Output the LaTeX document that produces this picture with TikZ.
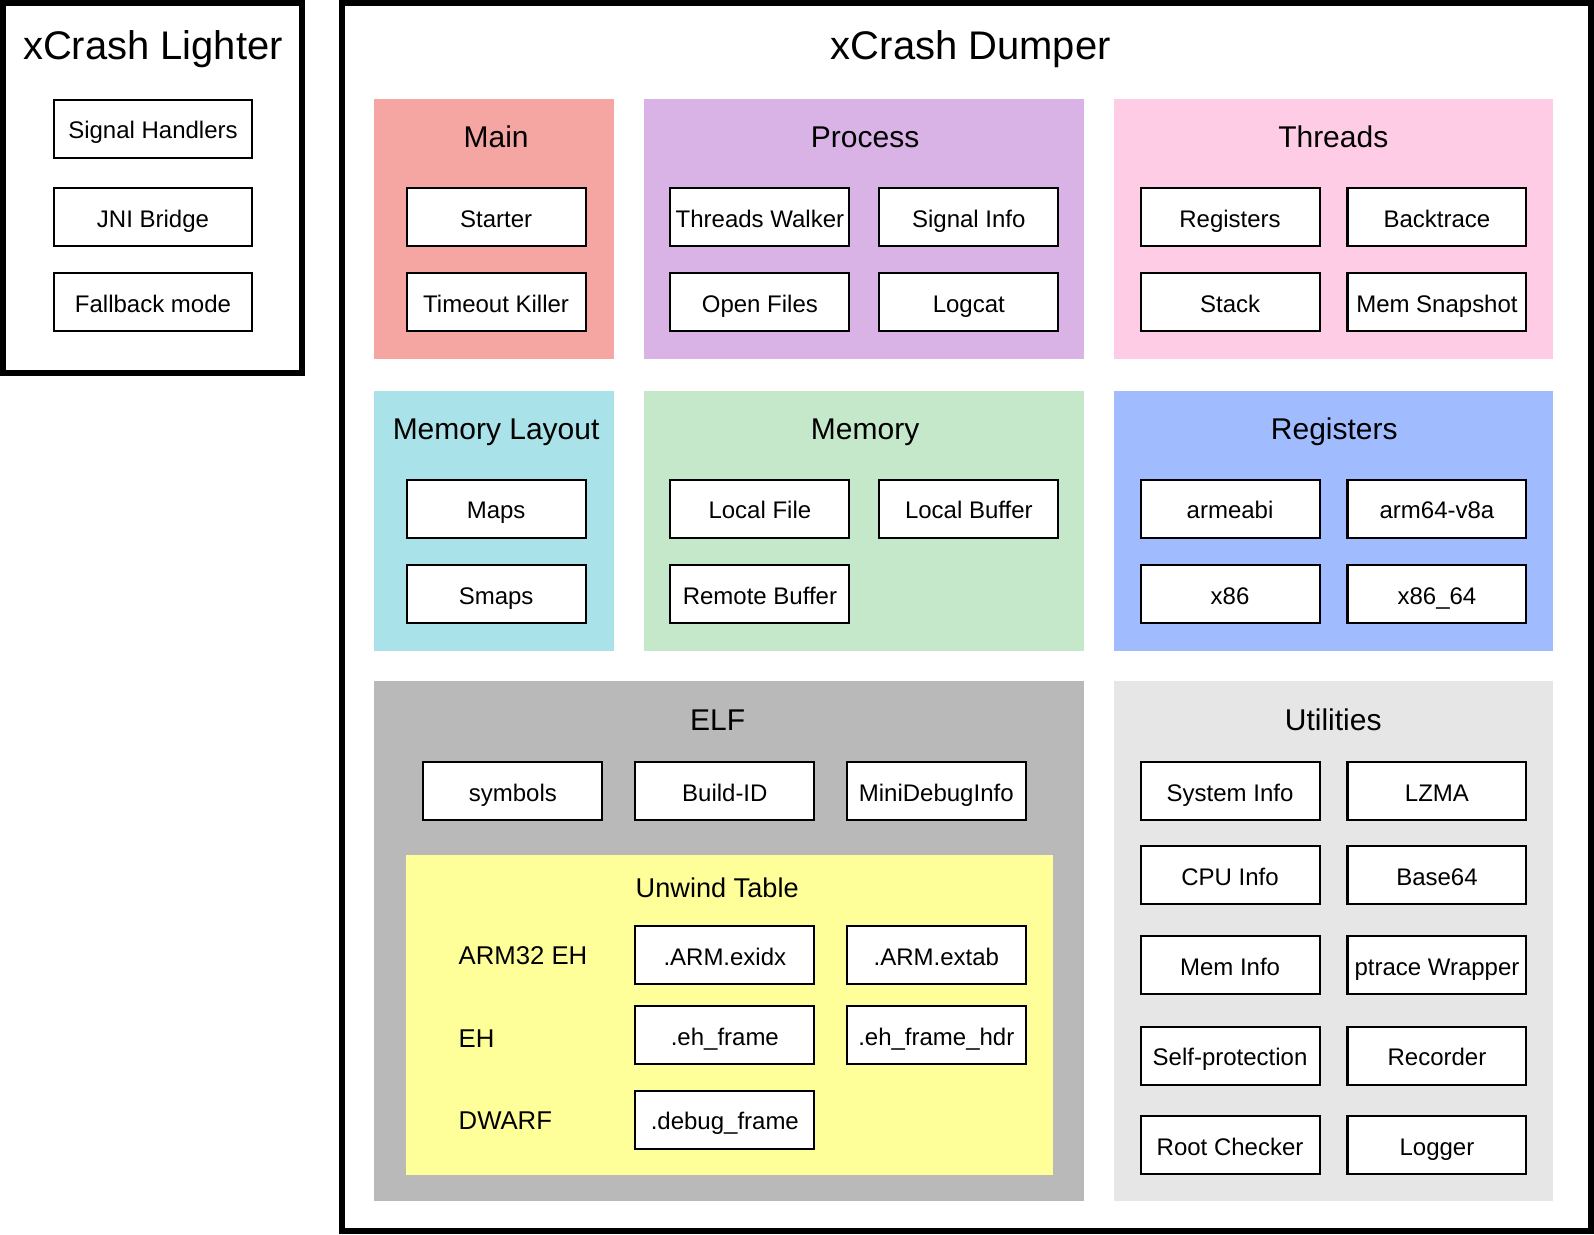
\documentclass[tikz,border=0pt]{standalone}
\usepackage{fontspec}
\setmainfont{Liberation Sans}
\definecolor{main-fill}{HTML}{F5A6A3}
\definecolor{process-fill}{HTML}{DAB3E6}
\definecolor{threads-fill}{HTML}{FFCCE6}
\definecolor{layout-fill}{HTML}{A9E3E9}
\definecolor{memory-fill}{HTML}{C4E8C9}
\definecolor{regs-fill}{HTML}{A0BCFF}
\definecolor{elf-fill}{HTML}{B9B9B9}
\definecolor{utils-fill}{HTML}{E6E6E6}
\definecolor{unwind-fill}{HTML}{FFFF9A}

\begin{document}
\begin{tikzpicture}[
x=1pt, y=-1pt,
outer-frame/.style={draw=black, line width=6pt},
blank/.style={font=\fontsize{25.3}{30}\selectfont, inner sep=0pt,
text height=20pt, text depth=3pt},
group-title/.style={font=\fontsize{29.5}{35}\selectfont, inner sep=0pt,
text height=24pt, text depth=3pt},
big-title/.style={font=\fontsize{39.3}{47}\selectfont, inner sep=0pt,
text height=31pt, text depth=5pt},
block/.style={rectangle, text centered, line width=2pt, draw=black, fill=white,
font=\fontsize{23.6}{28}\selectfont, inner sep=2pt,
text height=22pt, text depth=2pt,
minimum width=176pt, minimum height=57pt, node distance=84pt},
block-wide/.style={block, minimum width=195pt}
]
\useasboundingbox (0,0) rectangle (1568,1214);

% outer frames
\draw [outer-frame] (3,3) rectangle (297,367);
\draw [outer-frame] (336,3) rectangle (1565,1211);

% group backgrounds
\fill [main-fill] (368,97) rectangle (604,353);
\fill [process-fill] (633,97) rectangle (1066,353);
\fill [threads-fill] (1096,97) rectangle (1528,353);
\fill [layout-fill] (368,385) rectangle (604,640);
\fill [memory-fill] (633,385) rectangle (1066,640);
\fill [regs-fill] (1096,385) rectangle (1528,640);
\fill [elf-fill] (368,670) rectangle (1066,1181);
\fill [utils-fill] (1096,670) rectangle (1528,1181);
\fill [unwind-fill] (399,841) rectangle (1036,1156);

% xCrash Lighter
\node [big-title] (lighter) at (150.5,46) {xCrash Lighter};
\node [block-wide] (sig-handlers) at (150.5,126.5) {Signal Handlers};
\node [block-wide] (jni-bridge) at (150.5,213.5) {JNI Bridge};
\node [block-wide, below of=jni-bridge] (fallback) {Fallback mode};

% xCrash Dumper
\node [big-title] (dumper) at (955,46) {xCrash Dumper};

\node [group-title] (main) at (488,135) {Main};
\node [block] (starter) at (488,213.5) {Starter};
\node [block, below of=starter] (timeout) {Timeout Killer};

\node [group-title] (process) at (851,135) {Process};
\node [block] (threads-walker) at (747.5,213.5) {Threads Walker};
\node [block] (signal-info) at (953,213.5) {Signal Info};
\node [block, below of=threads-walker] (open-files) {Open Files};
\node [block, below of=signal-info] (logcat) {Logcat};

\node [group-title] (threads) at (1311.5,135) {Threads};
\node [block] (thr-registers) at (1210,213.5) {Registers};
\node [block] (backtrace) at (1413.5,213.5) {Backtrace};
\node [block, below of=thr-registers] (stack) {Stack};
\node [block, below of=backtrace] (mem-snapshot) {Mem Snapshot};

\node [group-title] (mem-layout) at (488,422) {Memory Layout};
\node [block] (maps) at (488,500.5) {Maps};
\node [block, below of=maps] (smaps) {Smaps};

\node [group-title] (memory) at (851,422) {Memory};
\node [block] (local-file) at (747.5,500.5) {Local File};
\node [block] (local-buffer) at (953,500.5) {Local Buffer};
\node [block, below of=local-file] (remote-buffer) {Remote Buffer};

\node [group-title] (registers) at (1312.5,422) {Registers};
\node [block] (armeabi) at (1210,500.5) {armeabi};
\node [block] (arm64) at (1413.5,500.5) {arm64-v8a};
\node [block, below of=armeabi] (x86) {x86};
\node [block, below of=arm64] (x86-64) {x86\_64};

\node [group-title] (elf) at (706,708) {ELF};
\node [block] (symbols) at (504.5,778) {symbols};
\node [block] (build-id) at (713,778) {Build-ID};
\node [block] (mini-debug) at (921,778) {MiniDebugInfo};

\node [group-title, font=\fontsize{26.7}{32}\selectfont] (unwind) at (705.5,872) {Unwind Table};
\node [blank, anchor=west] (arm32-eh) at (451,940) {ARM32 EH};
\node [blank, anchor=west] (eh) at (451,1022) {EH};
\node [blank, anchor=west] (dwarf) at (451,1103) {DWARF};
\node [block] (arm-exidx) at (713,939.5) {.ARM.exidx};
\node [block] (arm-extab) at (921,939.5) {.ARM.extab};
\node [block] (eh-frame) at (713,1018.5) {.eh\_frame};
\node [block] (eh-frame-hdr) at (921,1018.5) {.eh\_frame\_hdr};
\node [block] (debug-frame) at (713,1101.5) {.debug\_frame};

\node [group-title] (utilities) at (1311.5,708) {Utilities};
\node [block] (system-info) at (1210,778) {System Info};
\node [block] (lzma) at (1413.5,778) {LZMA};
\node [block] (cpu-info) at (1210,861) {CPU Info};
\node [block] (base64) at (1413.5,861) {Base64};
\node [block] (mem-info) at (1210,949.5) {Mem Info};
\node [block] (ptrace) at (1413.5,949.5) {ptrace Wrapper};
\node [block] (self-protect) at (1210,1038.5) {Self-protection};
\node [block] (recorder) at (1413.5,1038.5) {Recorder};
\node [block] (root-checker) at (1210,1126.5) {Root Checker};
\node [block] (logger) at (1413.5,1126.5) {Logger};

\end{tikzpicture}
\end{document}
